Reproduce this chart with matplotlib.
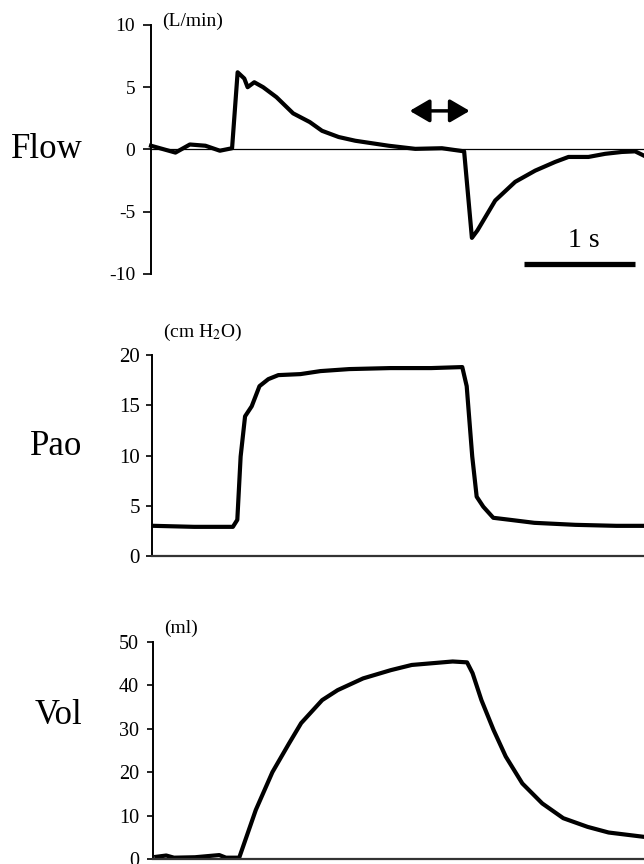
import matplotlib
matplotlib.use("Agg")
import matplotlib.pyplot as plt
import numpy as np

plt.rcParams['font.family'] = ['Liberation Serif', 'DejaVu Serif']
plt.rcParams['mathtext.fontset'] = 'stix'
plt.rcParams['axes.unicode_minus'] = False

# time in seconds
flow_t = [0.00, 0.22, 0.35, 0.49, 0.62, 0.73, 0.78, 0.84, 0.87, 0.93, 1.01, 1.13, 1.28, 1.43,
          1.54, 1.69, 1.84, 2.14, 2.38, 2.62, 2.82, 2.89, 2.94, 3.10, 3.28, 3.46, 3.64, 3.76,
          3.94, 4.09, 4.24, 4.36, 4.44]
flow_v = [0.3, -0.25, 0.4, 0.3, -0.1, 0.1, 6.2, 5.7, 5.0, 5.4, 5.0, 4.2, 2.9, 2.2,
          1.5, 1.0, 0.7, 0.3, 0.05, 0.1, -0.15, -7.1, -6.5, -4.1, -2.6, -1.7, -1.0, -0.6,
          -0.6, -0.35, -0.2, -0.15, -0.5]

pao_t = [0.02, 0.38, 0.73, 0.77, 0.80, 0.84, 0.90, 0.97, 1.05, 1.14, 1.34, 1.52, 1.78,
         2.15, 2.52, 2.80, 2.84, 2.89, 2.93, 2.99, 3.08, 3.23, 3.45, 3.82, 4.19, 4.44]
pao_v = [3.0, 2.9, 2.9, 3.6, 9.9, 13.9, 14.9, 16.9, 17.6, 18.0, 18.1, 18.4, 18.6,
         18.7, 18.7, 18.8, 16.9, 9.9, 5.9, 4.9, 3.8, 3.6, 3.3, 3.1, 3.0, 3.0]

vol_t = [0.03, 0.12, 0.19, 0.38, 0.60, 0.66, 0.78, 0.93, 1.08, 1.23, 1.34, 1.53, 1.67,
         1.90, 2.15, 2.34, 2.71, 2.84, 2.89, 2.97, 3.08, 3.19, 3.34, 3.52, 3.71, 3.93,
         4.12, 4.44]
vol_v = [0.5, 0.8, 0.3, 0.4, 0.9, 0.3, 0.3, 11.3, 20.0, 26.6, 31.3, 36.6, 38.9,
         41.6, 43.5, 44.7, 45.5, 45.3, 42.8, 36.6, 29.7, 23.6, 17.4, 12.8, 9.4, 7.4,
         6.1, 5.1]

names = ['Flow', 'Pao', 'Vol']
units = ['(L/min)', '(cm H$_2$O)', '(ml)']
ylims = [(-10, 10), (0, 20), (0, 50)]
yticks = [[-10, -5, 0, 5, 10], [0, 5, 10, 15, 20], [0, 10, 20, 30, 40, 50]]

arrow_t = (2.33, 2.87)
arrow_y = 3.1
bar_start = 3.36
bar_len = 1.0

fig = plt.figure(figsize=(6.44, 8.64), dpi=100)
boxes = [[0.2345, 0.6829, 0.7655, 0.2882],
         [0.2360, 0.3565, 0.7640, 0.2326],
         [0.2375, 0.0058, 0.7625, 0.2512]]
unit_y = [1.015, 1.114, 1.065]
name_y = [0.0, 10.9, 33.0]
tick_len = [6.0, 4.6, 4.6]
tick_pad = [5.5, 4.0, 5.3]
tick_size = [14, 15, 14.5]

series = [(flow_t, flow_v), (pao_t, pao_v), (vol_t, vol_v)]
for i, ax_box in enumerate(boxes):
    ax = fig.add_axes(ax_box)
    t, v = series[i]
    ax.plot(t, v, color='black', lw=3, solid_joinstyle='round', clip_on=False)
    ax.set_xlim(0, 4.44)
    ax.set_ylim(*ylims[i])
    ax.set_yticks(yticks[i])
    ax.set_xticks([])
    for s in ['top', 'right']:
        ax.spines[s].set_visible(False)
    ax.spines['left'].set_linewidth(1.4)
    if i == 0:
        ax.spines['bottom'].set_visible(False)
        ax.axhline(0, color='black', lw=0.9)
    else:
        ax.spines['bottom'].set_linewidth(1.6)
        ax.spines['bottom'].set_color('#333333')
    ax.tick_params(axis='y', direction='out', length=tick_len[i], width=1.2,
                   pad=tick_pad[i], labelsize=tick_size[i])
    ax.text(0.022, unit_y[i], units[i], transform=ax.transAxes, fontsize=14,
            ha='left', va='center')
    frac = (name_y[i] - ylims[i][0]) / (ylims[i][1] - ylims[i][0])
    fig.text(0.128, ax_box[1] + ax_box[3] * frac, names[i], fontsize=25,
             ha='right', va='center')
    if i == 0:
        ax.annotate('', xy=(arrow_t[1], arrow_y), xytext=(arrow_t[0], arrow_y),
                    arrowprops=dict(arrowstyle='<|-|>,head_length=0.6,head_width=0.35',
                                    lw=2.5, color='black', mutation_scale=20,
                                    shrinkA=0, shrinkB=0))
        ax.plot([bar_start, bar_start + bar_len], [-9.2, -9.2], color='black', lw=3.8,
                solid_capstyle='butt', clip_on=False)
        ax.text(bar_start + bar_len / 2 + 0.04, -7.3, '1 s', fontsize=20,
                ha='center', va='center')

fig.savefig('out.png', dpi=100)
